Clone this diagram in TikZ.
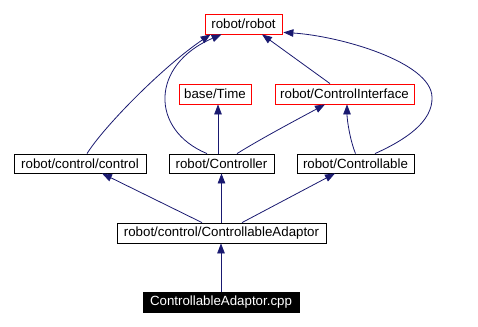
\documentclass[tikz,border=0pt]{standalone}
\usepackage{fontspec}
\setmainfont{Liberation Sans}
\usetikzlibrary{arrows.meta}
\definecolor{edgeblue}{HTML}{191970}
\begin{document}
\begin{tikzpicture}[x=1pt,y=-1pt,
  box/.style={draw=black, line width=0.8pt, inner sep=0pt, minimum height=19pt,
    font=\fontsize{13.3}{16}\selectfont},
  extbox/.style={box, draw=red},
  filebox/.style={box, fill=black, text=white},
  dep/.style={draw=edgeblue, line width=0.8pt, -{Triangle[length=10pt,width=7.5pt]}, edgeblue}]
\useasboundingbox (0,0) rectangle (478,326);

% classes and headers
\node[extbox, minimum width=77pt, minimum height=20pt] (robot) at (243.5,24) {robot/robot};
\node[extbox, minimum width=72pt, minimum height=20pt] (time) at (215,94) {base/Time};
\node[extbox, minimum width=139pt, minimum height=20pt] (ci) at (344.5,94) {robot/ControlInterface};
\node[box, minimum width=132pt] (control) at (80,163.5) {robot/control/control};
\node[box, minimum width=105pt] (controller) at (221.5,163.5) {robot/Controller};
\node[box, minimum width=117pt] (controllable) at (355.5,163.5) {robot/Controllable};
\node[box, minimum width=209pt, minimum height=20pt] (adaptor) at (221.5,233) {robot/control/ControllableAdaptor};
\node[filebox, minimum width=156pt, minimum height=20pt] (cpp) at (221,302) {ControllableAdaptor.cpp};

% include dependencies
\draw[dep] (cpp.north) -- (cpp.north |- adaptor.south);
\draw[dep] ([xshift=-19.5pt]adaptor.north) -- ([xshift=22pt]control.south);
\draw[dep] (adaptor.north) -- (controller.south);
\draw[dep] ([xshift=20.5pt]adaptor.north) -- ([xshift=-20.5pt]controllable.south);

\draw[dep] ([xshift=7pt]control.north) .. controls (105,125) and (165,65) .. ([xshift=6pt]robot.south west);
\draw[dep] ([xshift=-14.5pt]controller.north) .. controls (150,130) and (150,65) .. ([xshift=17pt]robot.south west);
\draw[dep] ([xshift=-3.5pt]controller.north) -- ([xshift=3pt]time.south);
\draw[dep] ([xshift=15.5pt]controller.north) .. controls (262,138) and (300,118) .. ([xshift=-19.5pt]ci.south);
\draw[dep] (controllable.north) .. controls (350,140) and (347,120) .. ([xshift=2.5pt]ci.south);
\draw[dep] ([xshift=19.5pt]controllable.north) .. controls (405,140) and (433,122) .. (432,97)
  .. controls (431,62) and (340,36) .. ([xshift=1pt,yshift=2pt]robot.south east);
\draw[dep] ([xshift=-14.5pt]ci.north) -- ([xshift=18.5pt]robot.south);
\end{tikzpicture}
\end{document}
